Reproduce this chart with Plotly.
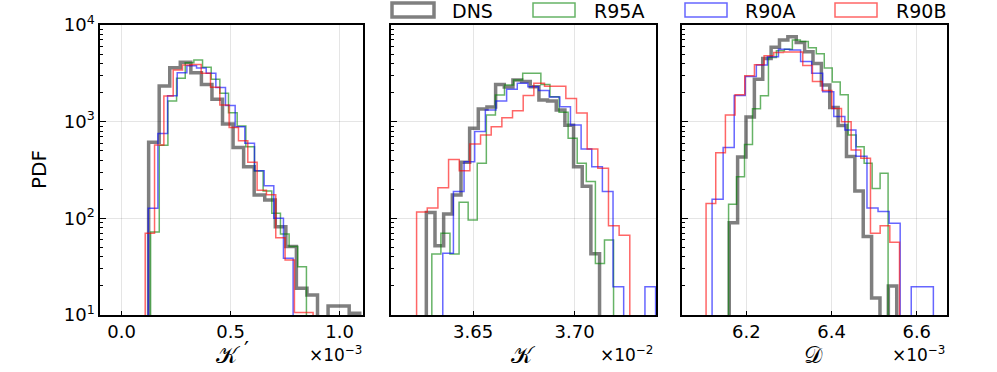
import numpy as np
import plotly.graph_objects as go
from plotly.subplots import make_subplots

# Step-histogram PDFs.
# Each series: (first edge, last edge) of its equal-width bins + bin heights.
# 0 means an empty bin.

# panel 1: K' (x in units of 1e-3)
kp_dns_range = (0.1237, 1.092)
kp_dns = [611, 2340, 3620, 4110, 3210, 2430, 1710, 946, 542, 342,
          174, 155, 82, 51, 18.9, 16.1, 0, 12.4, 12.4, 10.4]
kp_r95a_range = (0.1327, 0.8475)
kp_r95a = [72, 570, 1640, 2810, 4070, 4345, 3650, 2740, 1963, 1240,
           902, 551, 309, 192, 113, 69, 51, 31.6]
kp_r90a_range = (0.1219, 0.7864)
kp_r90a = [127, 755, 1857, 3200, 3780, 3600, 3160, 2250, 1470, 887,
           597, 310, 217, 100, 38.6]
kp_r90b_range = (0.108, 0.878)
kp_r90b = [70, 574, 1845, 3420, 3850, 3900, 3160, 2265, 1486, 870,
           634, 380, 195, 175, 63, 37, 10.6, 10.6]

# panel 2: K (x in units of 1e-2)
k_dns_range = (3.6270, 3.7123)
k_dns = [115, 52, 111, 174, 380, 853, 1350, 1420, 2420, 2290,
         2700, 2600, 2300, 1675, 1640, 1320, 920, 342, 215, 43]
k_r95a_range = (3.6297, 3.7192)
k_r95a = [42.8, 70, 42.8, 147, 96, 371, 1172, 1888, 2390, 2698,
          3160, 3160, 2420, 1815, 1250, 672, 371, 240, 34.2, 59.7]
k_r90a_range = (3.6351, 3.7399)
k_r90a = [43.5, 189, 385, 789, 1320, 1637, 2164, 2500, 2300, 2100,
          1800, 1430, 925, 521, 342, 189, 19.6, 0, 0, 19.6]
k_r90b_range = (3.6222, 3.7272)
k_r90b = [116, 128, 207, 407, 311, 588, 728, 887, 1095, 1300,
          1860, 2493, 2320, 2320, 1740, 1230, 520, 329, 84, 67]

# panel 3: D (x in units of 1e-3)
d_dns_range = (6.1599, 6.5530)
d_dns = [90, 430, 1115, 2750, 4500, 5900, 7000, 7570, 6600, 5300,
         4000, 2400, 1400, 915, 435, 192, 65, 15, 0, 20]
d_r95a_range = (6.1583, 6.5327)
d_r95a = [140, 270, 580, 1360, 1850, 4600, 5400, 5600, 7000, 6760,
          5800, 5050, 3600, 2570, 1900, 728, 550, 371, 204, 292]
d_r90a_range = (6.1196, 6.6390)
d_r90a = [158, 542, 1870, 2925, 3850, 4700, 5600, 5500, 4200, 3160,
          2040, 1128, 820, 440, 128, 118, 89, 0, 19.6, 19.6]
d_r90b_range = (6.1055, 6.5595)
d_r90b = [142, 477, 1172, 1900, 2980, 3880, 4800, 5200, 5250, 5250,
          3800, 2600, 2100, 1370, 1000, 509, 418, 70, 84, 56.5]

labels = ["DNS", "R95A", "R90A", "R90B"]
colors = ["rgba(0,0,0,0.5)", "rgba(0,128,0,0.6)", "rgba(0,0,255,0.6)", "rgba(255,0,0,0.6)"]
widths = [3.5, 1.5, 1.5, 1.5]

panels = [
    [(kp_dns_range, kp_dns), (kp_r95a_range, kp_r95a), (kp_r90a_range, kp_r90a), (kp_r90b_range, kp_r90b)],
    [(k_dns_range, k_dns), (k_r95a_range, k_r95a), (k_r90a_range, k_r90a), (k_r90b_range, k_r90b)],
    [(d_dns_range, d_dns), (d_r95a_range, d_r95a), (d_r90a_range, d_r90a), (d_r90b_range, d_r90b)],
]

y_major = [10, 100, 1000, 10000]
y_major_text = ["10<sup>1</sup>", "10<sup>2</sup>", "10<sup>3</sup>", "10<sup>4</sup>"]
y_minor = [m * d for d in (10, 100, 1000) for m in range(2, 10)]

W, H = 997, 372
FONT = "DejaVu Sans"
FLOOR = 1.0  # below the axis: outline drops off the bottom like mpl step hist


def px(xp):
    return xp / W


def py(yp):
    return 1 - yp / H


def step_xy(rng, heights):
    """Outline of a histtype='step' histogram."""
    h = np.asarray(heights, dtype=float)
    edges = np.linspace(rng[0], rng[1], len(h) + 1)
    h = np.where(h > 0, h, FLOOR)
    x = [edges[0]] + list(edges[:-1]) + [edges[-1]]
    y = [FLOOR] + list(h) + [FLOOR]
    return x, y


fig = make_subplots(rows=1, cols=3)

for col, series in enumerate(panels, start=1):
    for (rng, vals), name, c, w in zip(series, labels, colors, widths):
        x, y = step_xy(rng, vals)
        fig.add_trace(go.Scatter(x=x, y=y, mode="lines", name=name,
                                 line=dict(color=c, width=w, shape="hv"),
                                 showlegend=False, hoverinfo="skip"),
                      row=1, col=col)

# pixel layout of the three axes
x_px = [(100, 363), (391, 656), (682, 947)]
y_top, y_bot = 25, 315
x_ranges = [(-0.0994, 1.107), (3.6096, 3.7401), (6.049, 6.671)]
x_ticks = [[0.0, 0.5, 1.0], [3.65, 3.70], [6.2, 6.4, 6.6]]
x_fmt = [".1f", ".2f", ".1f"]

axis_common = dict(showline=True, linecolor="black", linewidth=1.5, mirror=True,
                   ticks="inside", tickcolor="black", showgrid=True,
                   gridcolor="rgba(0,0,0,0.1)", gridwidth=1, zeroline=False,
                   tickfont=dict(family=FONT, size=18, color="black"))

for i in range(3):
    n = "" if i == 0 else str(i + 1)
    fig.layout["xaxis" + n].update(
        domain=[px(x_px[i][0]), px(x_px[i][1])], range=list(x_ranges[i]),
        tickvals=x_ticks[i], tickformat=x_fmt[i], ticklen=4, **axis_common)
    fig.layout["yaxis" + n].update(
        domain=[py(y_bot), py(y_top)], type="log", range=[1, 4],
        tickmode="array", tickvals=y_major, ticktext=y_major_text, ticklen=6,
        showticklabels=(i == 0),
        minor=dict(ticks="inside", ticklen=3, tickcolor="black",
                   tickmode="array", tickvals=y_minor, showgrid=False),
        **axis_common)

P = dict(xref="paper", yref="paper", showarrow=False)
ann = []
# y label
ann.append(dict(x=px(39), y=py(170), text="PDF", textangle=-90,
                font=dict(family=FONT, size=20, color="black"),
                xanchor="center", yanchor="middle", **P))
# x labels and offset multipliers
for txt, cx in [("\U0001D4A6", 228), ("\U0001D4A6", 523), ("\U0001D49F", 813)]:
    ann.append(dict(x=px(cx), y=py(355), text=txt,
                    font=dict(family="DejaVu Serif", size=23, color="black"),
                    xanchor="center", yanchor="middle", **P))
# prime of K' as its own small label next to the K
ann.append(dict(x=px(246), y=py(349), text="\u2032",
                font=dict(family="DejaVu Sans", size=22, color="black"),
                xanchor="center", yanchor="middle", **P))
for txt, rx in [("\u00d710<sup>\u22123</sup>", 364), ("\u00d710<sup>\u22122</sup>", 655),
                ("\u00d710<sup>\u22123</sup>", 947)]:
    ann.append(dict(x=px(rx), y=py(354), text=txt,
                    font=dict(family=FONT, size=17, color="black"),
                    xanchor="right", yanchor="middle", **P))

# legend drawn as open patches + text along the top
shapes = []
leg_patch_x = [392, 533, 685, 835]
leg_text_x = [450, 592, 743, 894]
for x0, tx, name, c, w in zip(leg_patch_x, leg_text_x, labels, colors, widths):
    shapes.append(dict(type="rect", xref="paper", yref="paper",
                       x0=px(x0), x1=px(x0 + 42), y0=py(17), y1=py(3),
                       line=dict(color=c, width=w), fillcolor="rgba(0,0,0,0)"))
    ann.append(dict(x=px(tx), y=py(11), text=name,
                    font=dict(family=FONT, size=19, color="black"),
                    xanchor="left", yanchor="middle", **P))

fig.update_layout(width=W, height=H, margin=dict(l=0, r=0, t=0, b=0, autoexpand=False),
                  plot_bgcolor="white", paper_bgcolor="white",
                  annotations=ann, shapes=shapes, showlegend=False)

# drop the default page margin so the figure sits at the window's corner
fig.write_html("out.html", config={"displayModeBar": False},
               post_script="document.body.style.margin='0';document.body.style.overflow='hidden';")
